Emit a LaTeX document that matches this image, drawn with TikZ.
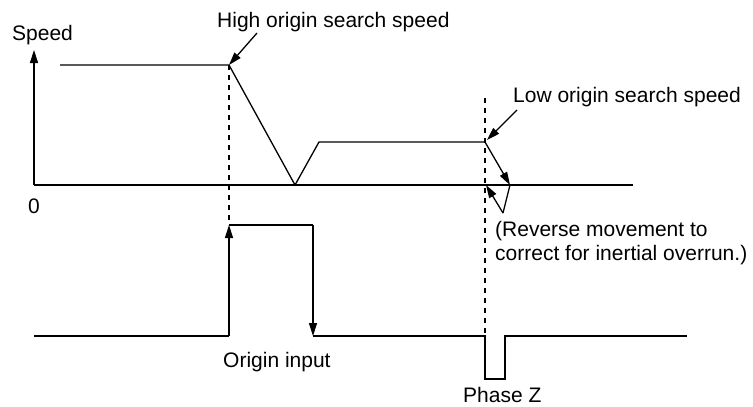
\documentclass[tikz,border=0pt]{standalone}
\usepackage{fontspec}
\setmainfont{Liberation Sans}
\usetikzlibrary{arrows.meta}

\begin{document}
\begin{tikzpicture}[x=1pt, y=-1pt, >={Triangle[length=13pt, width=8pt]},
    font=\fontsize{21}{24}\selectfont,
    wire/.style={-, line width=1.3pt, black},
    signal/.style={->, line width=1.3pt, black},
    guide/.style={line width=1.1pt, dash pattern=on 5pt off 5pt},
    tlabel/.style={inner sep=0pt, anchor=base west},
]
\useasboundingbox (0,0) rectangle (753,407);

% --- Coordinates ---
\def\xaxis{34}
\def\xhigh{229}
\def\xstop{295}
\def\xramp{319}
\def\xlow{485}
\def\xover{510}
\def\xend{633}

\def\yhigh{65}
\def\ylow{142}
\def\yzero{185}
\def\ytop{225}
\def\ybot{336}
\def\ydip{379}

% --- Speed axes ---
\coordinate (origin)   at (\xaxis, \yzero);
\coordinate (axis_top) at (\xaxis, 50);
\coordinate (axis_end) at (\xend, \yzero);

\draw[signal] (origin) -- (axis_top);
\draw[wire]   (origin) -- (axis_end);

\node[tlabel] (speed) at (12, 40) {Speed};
\node[tlabel] (zero)  at (28, 213) {0};

% --- Speed profile ---
\coordinate (hs_start) at (60, \yhigh);
\coordinate (hs_end)   at (\xhigh, \yhigh);
\coordinate (stop)     at (\xstop, \yzero);
\coordinate (ramp)     at (\xramp, \ylow);
\coordinate (ls_end)   at (\xlow, \ylow);
\coordinate (over)     at (\xover, \yzero);
\coordinate (back)     at (503, 213);
\coordinate (ret)      at (486, \yzero);

\draw[wire]   (hs_start) -- (hs_end) -- (stop) -- (ramp) -- (ls_end);
\draw[signal] (ls_end) -- (over);
\draw[wire]   (over) -- (back);
\draw[signal] (back) -- (ret);

% --- Labels with leaders ---
\node[tlabel] (high_lbl) at (217, 27) {High origin search speed};
\coordinate (high_tail) at (257, 33);
\draw[signal] (high_tail) -- (hs_end);

\node[tlabel] (low_lbl) at (513, 102) {Low origin search speed};
\coordinate (low_tail) at (517, 110);
\coordinate (low_tip)  at (487, 140);
\draw[signal] (low_tail) -- (low_tip);

\node[tlabel] (rev1) at (495, 236) {(Reverse movement to};
\node[tlabel] (rev2) at (495, 260) {correct for inertial overrun.)};

% --- Dashed guides ---
\coordinate (g1_top) at (\xhigh, \yhigh);
\coordinate (g1_bot) at (\xhigh, \ytop);
\coordinate (g2_top) at (\xlow, 98);
\coordinate (g2_bot) at (\xlow, \ybot);

\draw[guide] (g1_top) -- (g1_bot);
\draw[guide] (g2_top) -- (g2_bot);

% --- Origin input and phase Z ---
\coordinate (in_left) at (\xaxis, \ybot);
\coordinate (rise_b)  at (\xhigh, \ybot);
\coordinate (rise_t)  at (\xhigh, \ytop);
\coordinate (fall_t)  at (313, \ytop);
\coordinate (fall_b)  at (313, \ybot);
\coordinate (z_a)     at (\xlow, \ybot);
\coordinate (z_b)     at (\xlow, \ydip);
\coordinate (z_c)     at (505, \ydip);
\coordinate (z_d)     at (505, \ybot);
\coordinate (in_right) at (687, \ybot);

\draw[wire]   (in_left) -- (rise_b);
\draw[signal] (rise_b) -- (rise_t);
\draw[wire]   (rise_t) -- (fall_t);
\draw[signal] (fall_t) -- (fall_b);
\draw[wire]   (fall_b) -- (z_a) -- (z_b) -- (z_c) -- (z_d) -- (in_right);

\node[tlabel] (origin_lbl) at (223, 367) {Origin input};
\node[tlabel] (phase_lbl)  at (463, 402) {Phase Z};

\end{tikzpicture}
\end{document}
